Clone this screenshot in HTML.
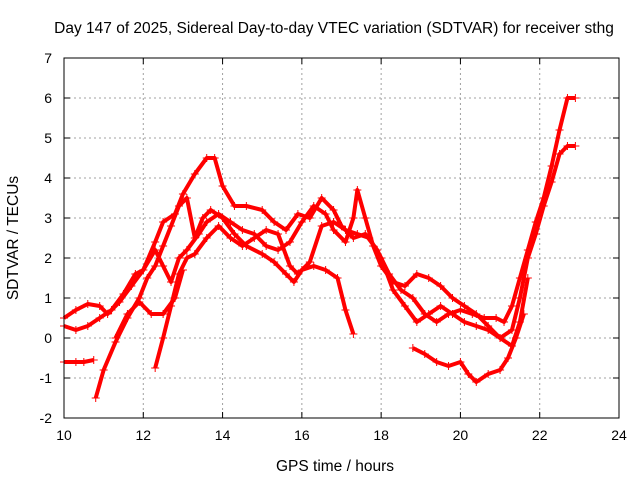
<!DOCTYPE html>
<html><head><meta charset="utf-8"><style>
body{margin:0;background:#fff}
svg text{font-family:"Liberation Sans",sans-serif;font-size:14px;fill:#000}
svg text.big{font-size:15.5px}
</style></head><body>
<svg id="chart" width="640" height="480">
<text class="big" x="334" y="33" text-anchor="middle">Day 147 of 2025, Sidereal Day-to-day VTEC variation (SDTVAR) for receiver sthg</text>
<text class="big" x="335" y="471" text-anchor="middle">GPS time / hours</text>
<text class="big" x="18" y="238" text-anchor="middle" transform="rotate(-90 18 238)">SDTVAR / TECUs</text>
<g id="grid"></g><g id="series"></g>
<rect x="64" y="58" width="555" height="360" fill="none" stroke="#000" stroke-width="1"/>
</svg>
<script>
const xTicks=[10,12,14,16,18,20,22,24];
const yTicks=[-2,-1,0,1,2,3,4,5,6,7];
const traceA=[[10.0,-0.6],[10.3,-0.6],[10.5,-0.6],[10.75,-0.55]];
const traceB=[[10.8,-1.5],[11.0,-0.8],[11.3,-0.1],[11.6,0.5],[11.9,1.0],[12.1,1.5],[12.3,1.8],[12.5,2.3],[12.7,2.8],[12.9,3.3],[13.1,3.5],[13.3,2.5],[13.5,3.0],[13.7,3.2],[14.0,3.0],[14.3,2.6],[14.6,2.3],[15.0,2.1],[15.3,1.9],[15.6,1.6],[15.8,1.4],[16.0,1.7],[16.3,1.8],[16.6,1.7],[16.9,1.5],[17.1,0.7],[17.3,0.1]];
const traceC=[[10.0,0.5],[10.3,0.7],[10.6,0.85],[10.9,0.8],[11.1,0.6],[11.4,0.9],[11.7,1.3],[12.0,1.7],[12.3,2.4],[12.5,2.9],[12.8,3.1],[13.0,3.6],[13.3,4.1],[13.6,4.5],[13.8,4.5],[14.0,3.8],[14.3,3.3],[14.6,3.3],[15.0,3.2],[15.3,2.9],[15.6,2.7],[15.9,3.1],[16.2,3.0],[16.5,3.5],[16.8,3.2],[17.0,2.8],[17.3,2.5],[17.6,2.6],[17.9,2.2],[18.2,1.6],[18.5,1.2],[18.8,1.0],[19.1,0.6],[19.4,0.4],[19.7,0.6],[20.0,0.7],[20.3,0.6],[20.6,0.5],[20.9,0.5],[21.1,0.4],[21.3,0.8],[21.5,1.5],[21.7,2.2],[21.9,2.9],[22.1,3.5],[22.3,4.3],[22.5,5.2],[22.7,6.0],[22.9,6.0]];
const traceD=[[10.0,0.3],[10.3,0.2],[10.6,0.3],[10.9,0.5],[11.2,0.7],[11.5,1.1],[11.8,1.6],[12.0,1.7],[12.3,2.2],[12.5,1.8],[12.7,1.4],[12.9,2.0],[13.1,2.2],[13.4,2.6],[13.6,2.9],[13.9,3.1],[14.2,2.9],[14.5,2.7],[14.8,2.6],[15.1,2.3],[15.4,2.2],[15.7,2.4],[16.0,2.9],[16.3,3.3],[16.6,3.1],[16.8,2.7],[17.1,2.4],[17.3,3.0],[17.4,3.7],[17.6,3.0],[17.8,2.3],[18.0,1.8],[18.3,1.4],[18.6,1.3],[18.9,1.6],[19.2,1.5],[19.5,1.3],[19.8,1.0],[20.1,0.8],[20.4,0.6],[20.7,0.3],[21.0,0.0],[21.3,0.2],[21.5,1.0],[21.7,2.0],[21.9,2.6],[22.1,3.3],[22.3,3.9],[22.5,4.6],[22.7,4.8],[22.9,4.8]];
const traceE=[[12.3,-0.75],[12.5,0.0],[12.7,0.8],[12.9,1.6],[13.1,2.0],[13.3,2.1],[13.6,2.5],[13.9,2.8],[14.2,2.5],[14.5,2.3],[14.8,2.5],[15.1,2.7],[15.4,2.6],[15.7,1.8],[15.9,1.6],[16.2,1.9],[16.5,2.8],[16.8,2.9],[17.1,2.7],[17.4,2.6],[17.7,2.5],[18.0,2.0],[18.3,1.2],[18.6,0.8],[18.9,0.4],[19.2,0.6],[19.5,0.8],[19.8,0.6],[20.1,0.4],[20.4,0.3],[20.7,0.2],[21.0,0.0],[21.3,-0.2],[21.5,0.4],[21.7,1.5]];
const traceF=[[18.8,-0.25],[19.1,-0.4],[19.4,-0.6],[19.7,-0.7],[20.0,-0.6],[20.2,-0.9],[20.4,-1.1],[20.7,-0.9],[21.0,-0.8],[21.2,-0.5],[21.4,0.0],[21.6,0.6]];
const traceG=[[11.3,0.0],[11.6,0.6],[11.9,0.9],[12.2,0.6],[12.5,0.6],[12.8,1.0],[13.0,1.7]];
const traces=[traceA,traceB,traceC,traceD,traceE,traceF,traceG];
const X0=64,X1=619,Y0=418,Y1=58;
function sx(v){return X0+(v-10)/(24-10)*(X1-X0);}
function sy(v){return Y0-(v+2)/(7+2)*(Y0-Y1);}
const NS="http://www.w3.org/2000/svg";
const grid=document.getElementById('grid');
function mk(tag,attrs,parent){const e=document.createElementNS(NS,tag);for(const k in attrs)e.setAttribute(k,attrs[k]);parent.appendChild(e);return e;}
xTicks.forEach(t=>{const x=sx(t);
 if(t>10&&t<24){const l=mk('line',{x1:x,x2:x,y1:Y1,y2:Y0,stroke:'#a0a0a0','stroke-dasharray':'2,3'},grid);
 
 }
 const tl=mk('text',{x:x,y:Y0+22,'text-anchor':'middle'},grid);tl.textContent=t;
 
 
 mk('line',{x1:x,x2:x,y1:Y0,y2:Y0-6,stroke:'#000'},grid);mk('line',{x1:x,x2:x,y1:Y1,y2:Y1+6,stroke:'#000'},grid);});
yTicks.forEach(t=>{const y=sy(t);
 if(t>-2&&t<7){const l=mk('line',{x1:X0,x2:X1,y1:y,y2:y,stroke:'#a0a0a0','stroke-dasharray':'2,3'},grid);
 
 }
 const tl=mk('text',{x:X0-12,y:y+5,'text-anchor':'end'},grid);tl.textContent=t;
 
 
 mk('line',{x1:X0,x2:X0+6,y1:y,y2:y,stroke:'#000'},grid);mk('line',{x1:X1,x2:X1-6,y1:y,y2:y,stroke:'#000'},grid);});
const ser=document.getElementById('series');
traces.forEach((tr,i)=>{
 const g=mk('g',{},ser);
 
 
 mk('polyline',{points:tr.map(p=>sx(p[0])+','+sy(p[1])).join(' '),fill:'none',stroke:'#ff0000','stroke-width':4,'stroke-linejoin':'round'},g);
 let d='';tr.forEach(p=>{const x=sx(p[0]),y=sy(p[1]);d+=`M${x-4},${y}h8M${x},${y-4}v8`;});
 mk('path',{d:d,stroke:'#ff0000','stroke-width':1},g);
});
</script>
</body></html>
